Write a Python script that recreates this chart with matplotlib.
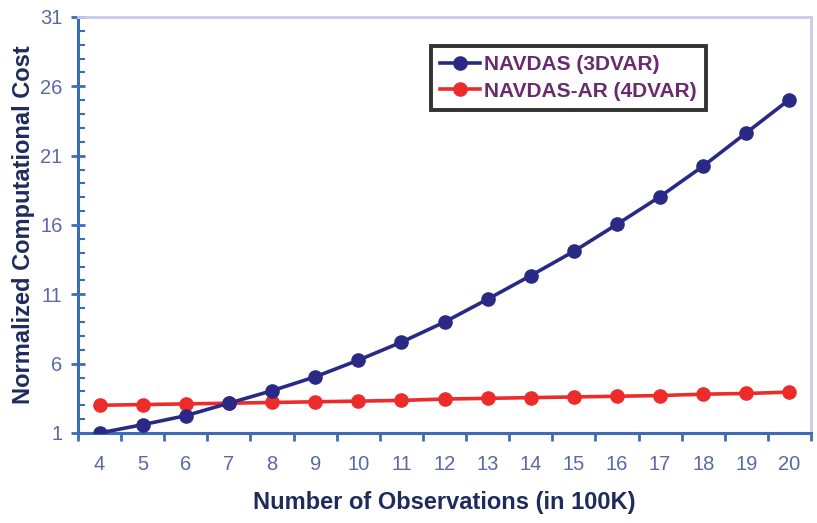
import numpy as np
import matplotlib.pyplot as plt
from matplotlib.ticker import MultipleLocator

plt.rcParams['font.family'] = ['Liberation Sans', 'DejaVu Sans']

# Data
observations = [4, 5, 6, 7, 8, 9, 10, 11, 12, 13, 14, 15, 16, 17, 18, 19, 20]
navdas_3dvar = [1.0, 1.6, 2.25, 3.15, 4.05, 5.05, 6.25, 7.55, 9.0, 10.65,
                12.35, 14.1, 16.05, 18.05, 20.25, 22.65, 25.05]
navdas_ar_4dvar = [3.0, 3.05, 3.1, 3.15, 3.2, 3.25, 3.3, 3.35, 3.45, 3.5,
                   3.55, 3.6, 3.65, 3.7, 3.8, 3.85, 3.95]

tick_color = '#5a68a6'
label_color = '#1e2b5c'
spine_color = '#3d6cb4'

fig = plt.figure(figsize=(8.17, 5.23), dpi=100)
ax = fig.add_axes([78 / 817, 90 / 523, 733 / 817, 416 / 523])

x = np.arange(len(observations))
ax.plot(x, navdas_3dvar, color='#2a2a86', lw=2.6, marker='o', ms=9.5,
        label='NAVDAS (3DVAR)', zorder=3)
ax.plot(x, navdas_ar_4dvar, color='#ee2b2b', lw=2.6, marker='o', ms=9.5,
        label='NAVDAS-AR (4DVAR)', zorder=2)

ax.set_xlim(-0.5, len(observations) - 0.5)
ax.set_ylim(1, 31)
ax.set_xticks(x)
ax.set_xticklabels([str(o) for o in observations])
ax.set_xticks(np.arange(-0.5, len(observations)), minor=True)
ax.tick_params(axis='x', which='major', length=0, pad=16,
               labelsize=14.5, labelcolor=tick_color)
ax.tick_params(axis='x', which='minor', direction='out', length=6,
               width=2, color=spine_color)

ax.set_yticks(np.arange(1, 32, 5))
ax.yaxis.set_minor_locator(MultipleLocator(1))
ax.tick_params(axis='y', which='major', direction='inout', length=10,
               width=2, color=spine_color, labelsize=14.5,
               labelcolor=tick_color, pad=6)
ax.tick_params(axis='y', which='minor', direction='in', length=5,
               width=1.5, color=spine_color)

for side in ['left', 'bottom']:
    ax.spines[side].set_color(spine_color)
    ax.spines[side].set_linewidth(2.2)
for side in ['top', 'right']:
    ax.spines[side].set_color('#c9cbe9')
    ax.spines[side].set_linewidth(2)

ax.set_xlabel('Number of Observations (in 100K)', fontsize=17,
              fontweight='bold', color=label_color, labelpad=12)
ax.set_ylabel('Normalized Computational Cost', fontsize=17,
              fontweight='bold', color=label_color, labelpad=4)

leg = ax.legend(loc='upper left', bbox_to_anchor=(0.481, 0.93),
                frameon=True, fancybox=False, edgecolor='black',
                fontsize=15, handlelength=1.9, handletextpad=0.2,
                borderpad=0.45, labelspacing=0.35, borderaxespad=0)
leg.get_frame().set_linewidth(2.8)
for t in leg.get_texts():
    t.set_color('#6a2a6e')
    t.set_fontweight('bold')

fig.savefig('out.png', dpi=100)
